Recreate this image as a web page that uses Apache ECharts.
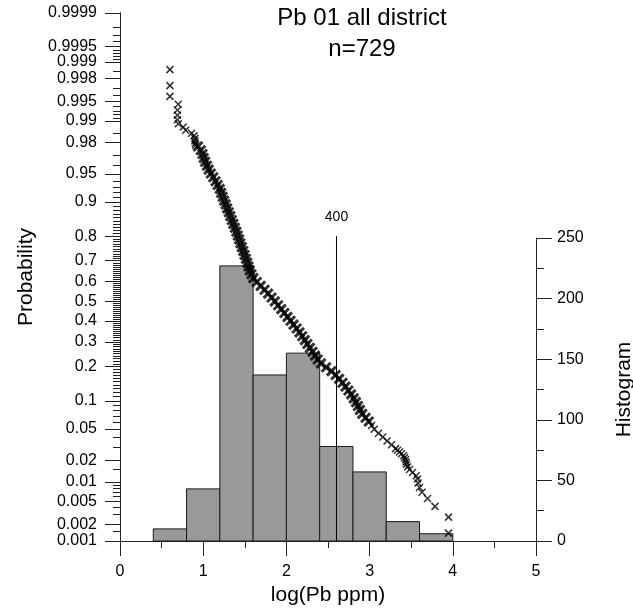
<!DOCTYPE html>
<html>
<head>
<meta charset="utf-8">
<script src="https://cdn.jsdelivr.net/npm/echarts@6/dist/echarts.min.js"></script>
<style>
html, body { margin: 0; padding: 0; background: #fff; }
#chart { width: 633px; height: 616px; }
</style>
</head>
<body>
<div id="chart"></div>
<script>
// histogram of log(Pb ppm), bins of 0.4
var binStart = [0.4, 0.8, 1.2, 1.6, 2.0, 2.4, 2.8, 3.2, 3.6];
var binWidth = 0.4;
var binCount = [10, 43, 227, 137, 155, 78, 57, 16, 6];

// probability plot (exceedance probability vs log(Pb))
var probLogPb = [
    0.60, 0.60, 0.60, 0.70, 0.69, 0.69, 0.69, 0.70, 0.76, 0.79, 0.86, 0.89, 0.90, 0.90, 0.905, 0.91,
    0.937, 0.971, 0.992, 1.006, 1.024, 1.045, 1.066, 1.092, 1.121, 1.148,
    1.174, 1.199, 1.217, 1.234, 1.251, 1.270, 1.288, 1.307, 1.325, 1.344,
    1.362, 1.381, 1.399, 1.415, 1.432, 1.447, 1.464, 1.481, 1.497, 1.513,
    1.529, 1.544, 1.560, 1.580, 1.603, 1.644, 1.691, 1.738, 1.780, 1.822, 1.861,
    1.900, 1.938, 1.976, 2.013, 2.050, 2.086, 2.123, 2.157, 2.190, 2.221,
    2.252, 2.282, 2.314, 2.345, 2.376, 2.415, 2.478, 2.541, 2.592, 2.633,
    2.675, 2.710, 2.745, 2.778, 2.809, 2.836, 2.860, 2.884, 2.912, 2.952,
    2.990, 3.023, 3.056, 3.107, 3.159, 3.210, 3.264,
    3.312, 3.336, 3.360, 3.384, 3.408, 3.420, 3.432, 3.438, 3.444, 3.456,
    3.480, 3.516, 3.560, 3.576, 3.582, 3.600, 3.630, 3.696, 3.786, 3.948, 3.948
];
var probValue = [
    0.9986, 0.9973, 0.9959, 0.9945, 0.9932, 0.9918, 0.9904, 0.9890, 0.9877, 0.9863, 0.9849, 0.9836, 0.9822, 0.9808, 0.9795, 0.9781,
    0.9772, 0.9744, 0.9713, 0.9678, 0.9641, 0.9599, 0.9554, 0.9505, 0.9452, 0.9394,
    0.9332, 0.9265, 0.9192, 0.9115, 0.9032, 0.8944, 0.8849, 0.8749, 0.8643, 0.8531,
    0.8413, 0.8289, 0.8159, 0.8023, 0.7881, 0.7734, 0.7580, 0.7422, 0.7257, 0.7088,
    0.6915, 0.6736, 0.6554, 0.6368, 0.6179, 0.5987, 0.5793, 0.5596, 0.5398, 0.5199, 0.5000,
    0.4801, 0.4602, 0.4404, 0.4207, 0.4013, 0.3821, 0.3632, 0.3446, 0.3264, 0.3085,
    0.2912, 0.2743, 0.2578, 0.2420, 0.2266, 0.2119, 0.1977, 0.1841, 0.1711, 0.1587,
    0.1469, 0.1357, 0.1251, 0.1151, 0.1056, 0.0968, 0.0885, 0.0808, 0.0735, 0.0668,
    0.0606, 0.0548, 0.0495, 0.0446, 0.0401, 0.0359, 0.0322,
    0.0288, 0.0274, 0.0260, 0.0247, 0.0233, 0.0219, 0.0206, 0.0192, 0.0178, 0.0164,
    0.0151, 0.0137, 0.0123, 0.0110, 0.0096, 0.0082, 0.0069, 0.0055, 0.0041, 0.0027, 0.0014
];

// probability axis ticks
var probTicks = [0.001, 0.002, 0.005, 0.01, 0.02, 0.05, 0.1, 0.2, 0.3, 0.4, 0.5, 0.6, 0.7, 0.8,
    0.9, 0.95, 0.98, 0.99, 0.995, 0.998, 0.999, 0.9995, 0.9999];
var probTickLabels = ['0.001', '0.002', '0.005', '0.01', '0.02', '0.05', '0.1', '0.2', '0.3', '0.4', '0.5',
    '0.6', '0.7', '0.8', '0.9', '0.95', '0.98', '0.99', '0.995', '0.998', '0.999', '0.9995', '0.9999'];
var probMinorTicks = [0.0015, 0.003, 0.004, 0.006, 0.007, 0.008, 0.009, 0.015, 0.03, 0.04,
    0.06, 0.07, 0.08, 0.09, 0.91, 0.92, 0.93, 0.94, 0.96, 0.97, 0.985,
    0.991, 0.992, 0.993, 0.994, 0.996, 0.997, 0.9985, 0.9991, 0.9992, 0.9993, 0.9994,
    0.9996, 0.9997, 0.9998];
for (var k = 11; k < 90; k++) {
    if (k % 10 != 0) probMinorTicks.push(k / 100);
}

var thresholdPpm = 400;
var thresholdTop = 0.8;
var titleLines = ['Pb 01 all district', 'n=729'];

// the middle of the plot is so crowded the crosses merge into a solid band
var bandFrom = 16, bandTo = 88;

var font = 'Liberation Sans, Arial, sans-serif';

// inverse normal cdf (Acklam) -> probability scale
function invNorm(p) {
    var a = [-3.969683028665376e+01, 2.209460984245205e+02, -2.759285104469687e+02, 1.383577518672690e+02, -3.066479806614716e+01, 2.506628277459239e+00];
    var b = [-5.447609879822406e+01, 1.615858368580409e+02, -1.556989798598866e+02, 6.680131188771972e+01, -1.328068155288572e+01];
    var c = [-7.784894002430293e-03, -3.223964580411365e-01, -2.400758277161838e+00, -2.549732539343734e+00, 4.374664141464968e+00, 2.938163982698783e+00];
    var d = [7.784695709041462e-03, 3.224671290700398e-01, 2.445134137142996e+00, 3.754408661907416e+00];
    var pl = 0.02425, q, r;
    if (p < pl) {
        q = Math.sqrt(-2 * Math.log(p));
        return (((((c[0] * q + c[1]) * q + c[2]) * q + c[3]) * q + c[4]) * q + c[5]) / ((((d[0] * q + d[1]) * q + d[2]) * q + d[3]) * q + 1);
    }
    if (p > 1 - pl) {
        q = Math.sqrt(-2 * Math.log(1 - p));
        return -(((((c[0] * q + c[1]) * q + c[2]) * q + c[3]) * q + c[4]) * q + c[5]) / ((((d[0] * q + d[1]) * q + d[2]) * q + d[3]) * q + 1);
    }
    q = p - 0.5;
    r = q * q;
    return (((((a[0] * r + a[1]) * r + a[2]) * r + a[3]) * r + a[4]) * r + a[5]) * q / (((((b[0] * r + b[1]) * r + b[2]) * r + b[3]) * r + b[4]) * r + 1);
}

var zTicks = probTicks.map(invNorm);
var zMinor = probMinorTicks.map(invNorm);
var zMin = zTicks[0];
var zMax = zTicks[zTicks.length - 1];

var scatterData = probLogPb.map(function (x, i) { return [x, invNorm(probValue[i])]; });
var tailData = scatterData.slice(0, bandFrom).concat(scatterData.slice(bandTo));
var bandData = scatterData.slice(bandFrom, bandTo);
var histData = binStart.map(function (s, i) { return [s, s + binWidth, binCount[i]]; });
var thrX = Math.log10(thresholdPpm);

var axisColor = '#222';
var crossPath = 'path://M0,0L10,10M10,0L0,10';

var chart = echarts.init(document.getElementById('chart'));
chart.setOption({
    animation: false,
    backgroundColor: '#fff',
    textStyle: { fontFamily: font },
    graphic: [{
        type: 'text',
        x: 362,
        y: 3,
        style: {
            text: titleLines.join('\n'),
            textAlign: 'center',
            textVerticalAlign: 'top',
            fontSize: 24,
            lineHeight: 31,
            fontFamily: font,
            fill: '#000'
        }
    }],
    grid: [
        { left: 120, right: 97, top: 13, bottom: 75, outerBoundsMode: 'none' },
        { left: 120, right: 97, top: 238, bottom: 75, outerBoundsMode: 'none' }
    ],
    xAxis: [{
        type: 'value',
        gridIndex: 0,
        min: 0,
        max: 5,
        interval: 1,
        name: 'log(Pb ppm)',
        nameLocation: 'middle',
        nameGap: 41,
        nameTextStyle: { fontSize: 21, color: '#000', fontFamily: font },
        axisLine: { show: true, onZero: false, lineStyle: { color: axisColor, width: 1 } },
        axisTick: { show: true, length: 15, lineStyle: { color: axisColor } },
        minorTick: { show: true, splitNumber: 2, length: 7, lineStyle: { color: axisColor } },
        axisLabel: { fontSize: 16, color: '#000', margin: 23 },
        splitLine: { show: false },
        minorSplitLine: { show: false }
    }, {
        type: 'value',
        gridIndex: 1,
        min: 0,
        max: 5,
        show: false
    }],
    yAxis: [{
        type: 'value',
        gridIndex: 0,
        position: 'left',
        min: zMin,
        max: zMax,
        name: 'Probability',
        nameLocation: 'middle',
        nameRotate: 90,
        nameGap: 83,
        nameTextStyle: { fontSize: 21, color: '#000', fontFamily: font },
        axisLine: { show: true, onZero: false, lineStyle: { color: axisColor, width: 1 } },
        axisTick: { show: true, length: 15, customValues: zTicks, lineStyle: { color: axisColor } },
        axisLabel: {
            fontSize: 16,
            color: '#000',
            margin: 23,
            customValues: zTicks,
            formatter: function (v) {
                for (var i = 0; i < zTicks.length; i++) {
                    if (Math.abs(zTicks[i] - v) < 1e-7) return probTickLabels[i];
                }
                return '';
            }
        },
        splitLine: { show: false }
    }, {
        type: 'value',
        gridIndex: 0,
        position: 'left',
        min: zMin,
        max: zMax,
        axisLine: { show: true, onZero: false, lineStyle: { color: axisColor, width: 1 } },
        axisTick: { show: true, length: 7, customValues: zMinor, lineStyle: { color: axisColor } },
        axisLabel: { show: false },
        splitLine: { show: false }
    }, {
        type: 'value',
        gridIndex: 1,
        position: 'right',
        min: 0,
        max: 250,
        interval: 50,
        name: 'Histogram',
        nameLocation: 'middle',
        nameRotate: 90,
        nameGap: 78,
        nameTextStyle: { fontSize: 21, color: '#000', fontFamily: font },
        axisLine: { show: true, onZero: false, lineStyle: { color: axisColor, width: 1 } },
        axisTick: { show: true, length: 16, lineStyle: { color: axisColor } },
        minorTick: { show: true, splitNumber: 2, length: 8, lineStyle: { color: axisColor } },
        axisLabel: { fontSize: 16, color: '#000', margin: 21 },
        splitLine: { show: false },
        minorSplitLine: { show: false }
    }],
    series: [{
        type: 'custom',
        name: 'Histogram',
        xAxisIndex: 1,
        yAxisIndex: 2,
        z: 1,
        encode: { x: [0, 1], y: 2 },
        data: histData,
        renderItem: function (params, api) {
            var p0 = api.coord([api.value(0), 0]);
            var p1 = api.coord([api.value(1), api.value(2)]);
            return {
                type: 'rect',
                shape: { x: p0[0], y: p1[1], width: p1[0] - p0[0], height: p0[1] - p1[1] },
                style: { fill: '#999999', stroke: '#1a1a1a', lineWidth: 1 }
            };
        }
    }, {
        type: 'line',
        name: 'threshold',
        xAxisIndex: 0,
        yAxisIndex: 0,
        z: 3,
        symbol: 'none',
        lineStyle: { color: '#000', width: 1 },
        data: [[thrX, zMin], [thrX, invNorm(thresholdTop)]],
        markPoint: {
            symbol: 'circle',
            symbolSize: 0,
            label: { show: true, formatter: String(thresholdPpm), position: 'top', distance: 12, fontSize: 14, color: '#000' },
            data: [{ coord: [thrX, invNorm(thresholdTop)] }]
        }
    }, {
        type: 'scatter',
        name: 'Pb tails',
        xAxisIndex: 0,
        yAxisIndex: 0,
        z: 4,
        symbol: crossPath,
        symbolSize: 7,
        itemStyle: { color: 'rgba(0,0,0,0)', borderColor: '#000', borderWidth: 1.5 },
        data: tailData
    }, {
        type: 'scatter',
        name: 'Pb band',
        xAxisIndex: 0,
        yAxisIndex: 0,
        z: 4,
        symbol: crossPath,
        symbolSize: 9,
        itemStyle: { color: 'rgba(0,0,0,0)', borderColor: '#000', borderWidth: 3 },
        data: bandData
    }]
});
</script>
</body>
</html>
